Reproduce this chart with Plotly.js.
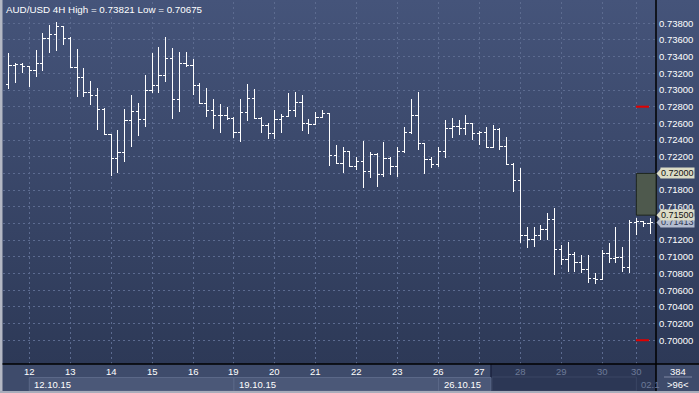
<!DOCTYPE html>
<html><head><meta charset="utf-8">
<script src="https://cdn.plot.ly/plotly-3.0.1.min.js"></script>
<style>html,body{margin:0;padding:0;background:#3c496a;overflow:hidden}#chart{width:699px;height:393px}
.ohlclayer path, .trace.ohlc path{shape-rendering:crispEdges}</style>
</head><body><div id="chart"></div>
<script>
// ---- data ----
const chartTitle = 'AUD/USD 4H High = 0.73821 Low = 0.70675';
const firstBar = -3; // bar index of first visible 4H bar (0 = 12.10.15 00:00)
const open = [
0.73072,0.73300,0.73312,0.73280,0.73232,0.73320,0.73620,0.73663,0.73759,0.73620,
0.73272,0.73153,0.72973,0.72937,0.72769,0.72464,0.72185,0.72248,0.72632,0.72748,
0.72641,0.73000,0.73057,0.73180,0.73380,0.72889,0.73320,0.73300,0.73057,0.72841,
0.72760,0.72700,0.72689,0.72656,0.72488,0.72733,0.72901,0.72661,0.72577,0.72481,
0.72649,0.72680,0.72760,0.72856,0.72601,0.72589,0.72668,0.72721,0.72209,0.72121,
0.72260,0.72089,0.72149,0.72021,0.72221,0.71993,0.72181,0.72081,0.72260,0.72488,
0.72689,0.72361,0.72169,0.72113,0.72260,0.72541,0.72560,0.72541,0.72601,0.72481,
0.72488,0.72313,0.72529,0.72320,0.72109,0.71921,0.71250,0.71202,0.71250,0.71322,
0.71442,0.71090,0.70970,0.71022,0.70930,0.70850,0.70743,0.70731,0.71042,0.70982,
0.70994,0.70874,0.71409,0.71421,0.71402];
const high = [
0.73440,0.73324,0.73324,0.73288,0.73480,0.73684,0.73780,0.73821,0.73768,0.73632,
0.73488,0.73264,0.73108,0.73024,0.72784,0.72473,0.72521,0.72772,0.72940,0.72848,
0.73180,0.73440,0.73519,0.73639,0.73500,0.73459,0.73459,0.73368,0.73088,0.73021,
0.72889,0.72832,0.72796,0.72680,0.72889,0.73072,0.73012,0.72680,0.72601,0.72760,
0.72712,0.72968,0.72980,0.72940,0.72649,0.72740,0.72760,0.72728,0.72341,0.72313,
0.72269,0.72201,0.72392,0.72260,0.72248,0.72380,0.72201,0.72320,0.72560,0.72892,
0.72980,0.72365,0.72201,0.72320,0.72641,0.72668,0.72641,0.72700,0.72608,0.72512,
0.72560,0.72581,0.72540,0.72433,0.72121,0.72061,0.71361,0.71361,0.71382,0.71522,
0.71582,0.71142,0.71181,0.71061,0.71022,0.71022,0.70810,0.71082,0.71162,0.71361,
0.71121,0.71442,0.71462,0.71430,0.71462];
const low = [
0.73009,0.73084,0.73204,0.73040,0.73160,0.73232,0.73440,0.73471,0.73540,0.73264,
0.72920,0.72916,0.72820,0.72521,0.72461,0.71973,0.72005,0.72141,0.72320,0.72449,
0.72553,0.72968,0.72968,0.73100,0.72649,0.72740,0.73280,0.72940,0.72830,0.72680,
0.72529,0.72481,0.72641,0.72421,0.72380,0.72632,0.72655,0.72488,0.72409,0.72409,
0.72488,0.72673,0.72680,0.72512,0.72473,0.72580,0.72661,0.72093,0.72113,0.72009,
0.72081,0.72041,0.71822,0.71942,0.71841,0.71961,0.71981,0.71961,0.72248,0.72473,
0.72281,0.71993,0.72061,0.72073,0.72185,0.72421,0.72461,0.72461,0.72401,0.72341,
0.72301,0.72301,0.72281,0.72101,0.71781,0.71162,0.71102,0.71121,0.71202,0.71202,
0.70782,0.70902,0.70822,0.70822,0.70802,0.70683,0.70675,0.70722,0.70930,0.70930,
0.70822,0.70810,0.71262,0.71361,0.71274];
const close = [
0.73300,0.73312,0.73280,0.73232,0.73320,0.73620,0.73663,0.73759,0.73620,0.73272,
0.73153,0.72973,0.72937,0.72769,0.72464,0.72185,0.72248,0.72632,0.72748,0.72641,
0.73000,0.73057,0.73180,0.73380,0.72889,0.73320,0.73300,0.73057,0.72841,0.72760,
0.72700,0.72689,0.72656,0.72488,0.72733,0.72901,0.72661,0.72577,0.72481,0.72649,
0.72680,0.72760,0.72856,0.72601,0.72589,0.72668,0.72721,0.72209,0.72121,0.72260,
0.72089,0.72149,0.72021,0.72221,0.71993,0.72181,0.72081,0.72260,0.72488,0.72689,
0.72361,0.72169,0.72113,0.72260,0.72541,0.72560,0.72541,0.72601,0.72481,0.72488,
0.72313,0.72529,0.72320,0.72109,0.71921,0.71250,0.71202,0.71250,0.71322,0.71442,
0.71090,0.70970,0.71022,0.70930,0.70850,0.70743,0.70731,0.71042,0.70982,0.70994,
0.70874,0.71409,0.71421,0.71402,0.71413];
const dayLabels = ['12','13','14','15','16','19','20','21','22','23','26','27','28','29','30','30'];
const dayBars   = [0,6,12,18,24,30,36,42,48,54,60,66,72,78,84,89];
const dayDimmed = [0,0,0,0,0,0,0,0,0,0,0,0,1,1,1,1];
const weekLabels = ['12.10.15','19.10.15','26.10.15'];
const weekBars   = [0,30,60];
const priceTicks = [0.700,0.702,0.704,0.706,0.708,0.710,0.712,0.714,0.716,0.718,
                    0.720,0.722,0.724,0.726,0.728,0.730,0.732,0.734,0.736,0.738];
const levelLines = [0.728, 0.700];
const zoneTop = 0.720, zoneBottom = 0.715;
const lastPrice = 0.71413;
const barCountText = '384', visibleText = '>96<', nextLabel = '02.1';

// ---- layout geometry (pixels) ----
const W = 699, H = 393, ML = 3, MR = 43, MT = 2, MB = 29;
const PW = W - ML - MR, PH = H - MT - MB;
const xr = [-3.856, 91.88];
const yr = [0.697150, 0.740554];
const px = X => (X - ML) / PW;          // pixel x -> paper x
const py = Y => (H - MB - Y) / PH;       // pixel y -> paper y
const kx = k => ML + (k - xr[0]) / (xr[1] - xr[0]) * PW;

const xs = open.map((_, i) => firstBar + i);

const trace = {
  type: 'ohlc', x: xs, open, high, low, close,
  increasing: {line: {color: '#ffffff', width: 1}},
  decreasing: {line: {color: '#ffffff', width: 1}},
  tickwidth: 0.4, hoverinfo: 'skip', showlegend: false
};

const grad = 'data:image/svg+xml;utf8,' + encodeURIComponent(
 '<svg xmlns="http://www.w3.org/2000/svg" width="10" height="100" preserveAspectRatio="none"><defs><linearGradient id="g" x1="0" y1="0" x2="0" y2="1"><stop offset="0" stop-color="#45547a"/><stop offset="1" stop-color="#2d3957"/></linearGradient></defs><rect width="10" height="100" fill="url(#g)"/></svg>');

const shapes = [];
const annotations = [];
const font = 'Liberation Sans, Arial, sans-serif';

// bottom panel
shapes.push({type:'rect', xref:'paper', yref:'paper', x0:px(0), x1:px(W), y0:py(364), y1:py(H), fillcolor:'#3e4b6b', line:{width:0}, layer:'below'});
const darkX = 491;
shapes.push({type:'rect', xref:'paper', yref:'paper', x0:px(darkX), x1:px(656), y0:py(364), y1:py(391), fillcolor:'#2c3755', line:{width:0}});
shapes.push({type:'rect', xref:'paper', yref:'paper', x0:px(darkX+1), x1:px(kx(89)), y0:py(377), y1:py(391), fillcolor:'rgba(0,0,0,0)', line:{color:'#3a4664', width:1}});
shapes.push({type:'line', xref:'paper', yref:'paper', x0:px(darkX), x1:px(darkX), y0:py(364), y1:py(391), line:{color:'#1c2540', width:1.5}});
weekBars.forEach((b, i) => {
  const x0 = kx(b), x1 = i < weekBars.length - 1 ? kx(weekBars[i+1]) : darkX;
  shapes.push({type:'rect', xref:'paper', yref:'paper', x0:px(x0), x1:px(x1), y0:py(377.5), y1:py(391), fillcolor:'#4b5878', line:{color:'#5b6888', width:1}});
  annotations.push({xref:'paper', yref:'paper', x:px(x0+3), y:py(384.5), xanchor:'left', yanchor:'middle', text:weekLabels[i], showarrow:false, font:{family:font, size:9.5, color:'#ffffff'}});
});
annotations.push({xref:'paper', yref:'paper', x:px(kx(89)+3), y:py(384.5), xanchor:'left', yanchor:'middle', text:nextLabel, showarrow:false, font:{family:font, size:9.5, color:'#6d7a98'}});
dayBars.forEach((b, i) => {
  annotations.push({xref:'x', yref:'paper', x:b, y:py(371.5), xanchor:'center', yanchor:'middle', text:dayLabels[i], showarrow:false, font:{family:font, size:9.5, color: dayDimmed[i] ? '#6d7a98' : '#ffffff'}});
});
shapes.push({type:'rect', xref:'paper', yref:'paper', x0:px(657), x1:px(W), y0:py(364), y1:py(391), fillcolor:'#3e4b6b', line:{width:0}});
shapes.push({type:'line', xref:'paper', yref:'paper', x0:px(664), x1:px(692), y0:py(377), y1:py(377), line:{color:'#7e88a4', width:1}});
annotations.push({xref:'paper', yref:'paper', x:px(678), y:py(371), xanchor:'center', yanchor:'middle', text:barCountText, showarrow:false, font:{family:font, size:9.5, color:'#ffffff'}});
annotations.push({xref:'paper', yref:'paper', x:px(678), y:py(384.5), xanchor:'center', yanchor:'middle', text:visibleText, showarrow:false, font:{family:font, size:9.5, color:'#ffffff'}});
shapes.push({type:'rect', xref:'paper', yref:'paper', x0:px(0), x1:px(2.5), y0:py(0), y1:py(H), fillcolor:'#b4b8c4', line:{width:0}});
shapes.push({type:'rect', xref:'paper', yref:'paper', x0:px(0), x1:px(W), y0:py(391), y1:py(H), fillcolor:'#a8adbb', line:{width:0}});
shapes.push({type:'line', xref:'paper', yref:'paper', x0:px(2.5), x1:px(W), y0:py(364), y1:py(364), line:{color:'#000000', width:1.5}});
shapes.push({type:'line', xref:'paper', yref:'paper', x0:1, x1:1, y0:py(0), y1:py(391), line:{color:'#000000', width:1.5}});
levelLines.forEach(v => shapes.push({type:'line', xref:'paper', yref:'y', x0:px(636), x1:px(649), y0:v, y1:v, line:{color:'#e00000', width:2}}));
shapes.push({type:'rect', xref:'paper', yref:'y', x0:px(kx(89)), x1:1, y0:zoneBottom, y1:zoneTop, fillcolor:'#4e594d', line:{color:'#1e261e', width:1}});
// price tags (these cover the axis labels underneath, as in the source chart)
const tagged = [];
function tag(v, bg, fg){
  const d = 0.00060;
  tagged.push(v);
  shapes.push({type:'path', xref:'paper', yref:'y', path:`M ${px(656.5)} ${v} L ${px(661)} ${v+d} L ${px(661)} ${v-d} Z`, fillcolor:bg, line:{color:bg, width:0}});
  annotations.push({xref:'paper', yref:'y', x:px(660), y:v, xanchor:'left', yanchor:'middle', text:v.toFixed(5), showarrow:false, bgcolor:bg, borderpad:0, font:{family:font, size:9, color:fg}});
}
tag(lastPrice, '#b3bccf', '#2a3350');
tag(zoneBottom, '#dcdcc6', '#111111');
tag(zoneTop, '#dcdcc6', '#111111');
annotations.push({xref:'paper', yref:'paper', x:px(4), y:py(2), xanchor:'left', yanchor:'top', text:chartTitle, showarrow:false, font:{family:font, size:9.8, color:'#ffffff'}});

// axis labels hidden where a price tag sits on top of them
const hiddenTicks = [0.720, 0.714];

const layout = {
  width: W, height: H,
  margin: {l: ML, r: MR, t: MT, b: MB, pad: 0},
  paper_bgcolor: '#3c496a', plot_bgcolor: 'rgba(0,0,0,0)',
  showlegend: false, dragmode: false,
  images: [{source: grad, xref:'paper', yref:'paper', x:px(0), y:py(0), sizex:px(W)-px(0), sizey:py(0)-py(364), xanchor:'left', yanchor:'top', sizing:'stretch', layer:'below'}],
  xaxis: {range: xr, type:'linear', rangeslider:{visible:false}, tickvals: dayBars, showticklabels:false, ticks:'',
          showgrid:true, gridcolor:'#5c6b90', griddash:'2px,3px', gridwidth:1, zeroline:false, showline:false, fixedrange:true},
  yaxis: {range: yr, side:'right', tickvals: priceTicks,
          ticktext: priceTicks.map(v => hiddenTicks.some(h => Math.abs(h - v) < 1e-9) ? '' : v.toFixed(5)),
          ticks:'', ticklabelstandoff: 2,
          tickfont:{family:font, size:9.5, color:'#ffffff'},
          showgrid:true, gridcolor:'#5c6b90', griddash:'2px,3px', gridwidth:1, zeroline:false, showline:false, fixedrange:true},
  shapes, annotations
};

Plotly.newPlot('chart', [trace], layout, {displayModeBar:false, staticPlot:true});
</script></body></html>
